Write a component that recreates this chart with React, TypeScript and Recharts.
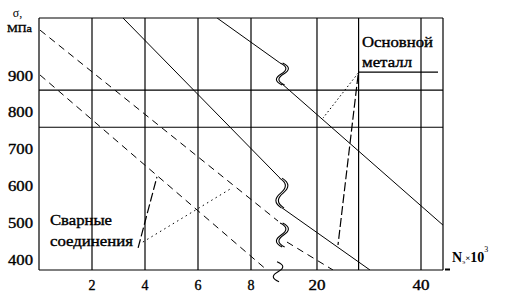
import { LineChart, Line, XAxis, YAxis, ReferenceLine, ReferenceDot } from "recharts";

const FONT = "'Liberation Serif', 'Times New Roman', Times, serif";

// N_э ×10^3 axis is broken after 8; 20 and 40 sit on a compressed tail
const xTicks = [2, 4, 6, 8, 20, 40];
const xTickLabels = ["2", "4", "6", "8", "20", "40"];
const xGrid = [2, 4, 6, 8, 20, 28, 40];
const xMax = 44.23;

const yTicks = [400, 500, 600, 700, 800, 900];
const yGrid = [761, 862];
const yMin = 373;
const yMax = 1058;

// [N, σ] — each curve split at the axis break
const baseUpperHead: [number, number][] = [[6.72, 1058], [9.09, 936]];
const baseUpperTail: [number, number][] = [[13.27, 879], [44.23, 495]];
const baseLowerHead: [number, number][] = [[3.17, 1058], [9.09, 623]];
const baseLowerTail: [number, number][] = [[13.27, 542], [30.19, 373]];
const weldUpperHead: [number, number][] = [[0.04, 1025], [9.02, 506]];
const weldUpperTail: [number, number][] = [[14.23, 449], [23.08, 373]];
const weldLower: [number, number][] = [[0.04, 903], [8.6, 373]];

// leader lines from the captions
const leaderBaseDotted: [number, number][] = [[27.9, 908], [21.16, 786]];
const leaderBaseDashed: [number, number][] = [[27.9, 903], [24.04, 441]];
const captionRule: [number, number][] = [[27.9, 911], [43.27, 911]];
const leaderWeldDashed: [number, number][] = [[3.74, 433], [4.45, 626]];
const leaderWeldDotted: [number, number][] = [[3.92, 449], [7.28, 596]];

// break marks: [N, σ, height px]
const breakMarks: [number, number, number][] = [
  [9.1, 906, 22],
  [9.08, 582, 30],
  [9.1, 468, 24],
];
const axisBreak: [number, number, number] = [9.02, 368, 20];

const BREAK_AT = 9.1;
const POS_20 = 10.49;
const POS_40 = 14.415;
const pos = (n: number) =>
  n <= BREAK_AT ? n : POS_20 + ((n - 20) * (POS_40 - POS_20)) / 20;

const toRows = (pts: [number, number][]) => pts.map(([n, s]) => ({ u: pos(n), s }));

const ink = { fontFamily: FONT, stroke: "#000", strokeWidth: 0.35 };

const YTick = (props: any) => {
  const { x, y, payload } = props;
  return (
    <text x={x} y={y} dy={4.5} textAnchor="end" style={ink} fontSize={14}
      textLength={25} lengthAdjust="spacingAndGlyphs" fill="#000">
      {payload.value}
    </text>
  );
};

const XTick = (props: any) => {
  const { x, y, index } = props;
  const label = xTickLabels[index];
  return (
    <text x={x} y={y + 20} textAnchor="middle" style={ink} fontSize={14}
      textLength={label.length > 1 ? 17 : undefined} lengthAdjust="spacingAndGlyphs" fill="#000">
      {label}
    </text>
  );
};

const squiggle = (cx: number, cy: number, h: number, double: boolean) => {
  const d = (ox: number) =>
    `M ${cx - 1 + ox} ${cy - h / 2} C ${cx + 7 + ox} ${cy - h / 3}, ${cx + 6 + ox} ${cy - h / 6}, ${cx + ox} ${cy} S ${cx - 7 + ox} ${cy + h / 3}, ${cx + 1 + ox} ${cy + h / 2}`;
  return (
    <g>
      <path d={d(0)} fill="none" stroke="#000" strokeWidth={1.1} />
      {double && <path d={d(2.5)} fill="none" stroke="#000" strokeWidth={1.1} />}
    </g>
  );
};

const caption = (text: string, width: number) => (p: any) => (
  <text x={p.cx} y={p.cy} style={ink} fontSize={14} textLength={width}
    lengthAdjust="spacingAndGlyphs" fill="#000">
    {text}
  </text>
);

const YTitle = (props: any) => {
  const { x, y, width } = props.viewBox;
  const cx = x + width / 2;
  return (
    <g style={{ fontFamily: FONT }} fill="#000">
      <text x={cx - 2} y={y - 1} textAnchor="middle" fontSize={12}>σ,</text>
      <text x={cx} y={y + 14} textAnchor="middle" fontSize={11} textLength={25}
        lengthAdjust="spacingAndGlyphs" style={ink}>МПа</text>
    </g>
  );
};

const XTitle = (props: any) => {
  const { x, y, width } = props.viewBox;
  const r = x + width;
  return (
    <g style={{ fontFamily: FONT }} fill="#000">
      <line x1={r + 2} y1={y - 0.5} x2={r + 7} y2={y - 0.5} stroke="#000" strokeWidth={2} />
      <text x={r + 9} y={y - 8} fontSize={14} fontWeight="bold">
        N<tspan fontSize={7} dy={2} fontWeight="normal">э</tspan>
        <tspan fontSize={9} dy={-3}>×</tspan>
        <tspan fontSize={14} dy={1}>10</tspan>
        <tspan fontSize={8} dy={-10} fontWeight="normal">3</tspan>
      </text>
    </g>
  );
};

const solid = [baseUpperHead, baseUpperTail, baseLowerHead, baseLowerTail];
const dashed = [weldUpperHead, weldUpperTail, weldLower];

export default function App() {
  return (
    <div style={{ position: "absolute", left: 0, top: 0, background: "#fff" }}>
      <LineChart width={505} height={294} margin={{ top: 18, right: 62, bottom: 0, left: 0 }}>
        <XAxis
          type="number"
          dataKey="u"
          domain={[0, pos(xMax)]}
          ticks={xTicks.map(pos)}
          tick={<XTick />}
          tickSize={0}
          tickMargin={0}
          height={24}
          allowDataOverflow
          axisLine={{ stroke: "#000", strokeWidth: 1.2 }}
          label={<XTitle />}
        />
        <YAxis
          type="number"
          dataKey="s"
          domain={[yMin, yMax]}
          ticks={yTicks}
          tick={<YTick />}
          tickSize={0}
          tickMargin={6}
          width={39}
          allowDataOverflow
          axisLine={{ stroke: "#000", strokeWidth: 1.2 }}
          label={<YTitle />}
        />
        {xGrid.map((n) => (
          <ReferenceLine key={"vx" + n} x={pos(n)} stroke="#000" strokeWidth={1.2} />
        ))}
        <ReferenceLine x={pos(xMax)} stroke="#000" strokeWidth={1.2} />
        {yGrid.map((s) => (
          <ReferenceLine key={"hy" + s} y={s} stroke="#000" strokeWidth={1.2} />
        ))}
        <ReferenceLine y={yMax} stroke="#000" strokeWidth={1.2} />

        {solid.map((pts, i) => (
          <Line key={"s" + i} data={toRows(pts)} dataKey="s" type="linear" stroke="#000"
            strokeWidth={1} dot={false} isAnimationActive={false} />
        ))}
        {dashed.map((pts, i) => (
          <Line key={"d" + i} data={toRows(pts)} dataKey="s" type="linear" stroke="#000"
            strokeWidth={1} strokeDasharray="7 5" dot={false} isAnimationActive={false} />
        ))}

        <Line data={toRows(leaderBaseDotted)} dataKey="s" stroke="#000" strokeWidth={1}
          strokeDasharray="1.5 2.5" dot={false} isAnimationActive={false} />
        <Line data={toRows(leaderBaseDashed)} dataKey="s" stroke="#000" strokeWidth={1.2}
          strokeDasharray="9 3" dot={false} isAnimationActive={false} />
        <Line data={toRows(captionRule)} dataKey="s" stroke="#000" strokeWidth={1.2}
          dot={false} isAnimationActive={false} />
        <Line data={toRows(leaderWeldDashed)} dataKey="s" stroke="#000" strokeWidth={1.2}
          strokeDasharray="9 3" dot={false} isAnimationActive={false} />
        <Line data={toRows(leaderWeldDotted)} dataKey="s" stroke="#000" strokeWidth={1}
          strokeDasharray="1.5 3.5" dot={false} isAnimationActive={false} />

        {breakMarks.map(([n, s, h], i) => (
          <ReferenceDot key={"b" + i} x={pos(n)} y={s} r={0} ifOverflow="visible"
            shape={(p: any) => squiggle(p.cx + 1, p.cy, h, true)} />
        ))}
        <ReferenceDot x={pos(axisBreak[0])} y={axisBreak[1]} r={0} ifOverflow="visible"
          shape={(p: any) => squiggle(p.cx, p.cy, axisBreak[2], false)} />

        <ReferenceDot x={pos(28.66)} y={979} r={0} ifOverflow="visible" shape={caption("Основной", 71)} />
        <ReferenceDot x={pos(28.66)} y={925} r={0} ifOverflow="visible" shape={caption("металл", 50)} />
        <ReferenceDot x={pos(0.415)} y={495} r={0} ifOverflow="visible" shape={caption("Сварные", 62)} />
        <ReferenceDot x={pos(0.415)} y={438} r={0} ifOverflow="visible" shape={caption("соединения", 83)} />
      </LineChart>
    </div>
  );
}
